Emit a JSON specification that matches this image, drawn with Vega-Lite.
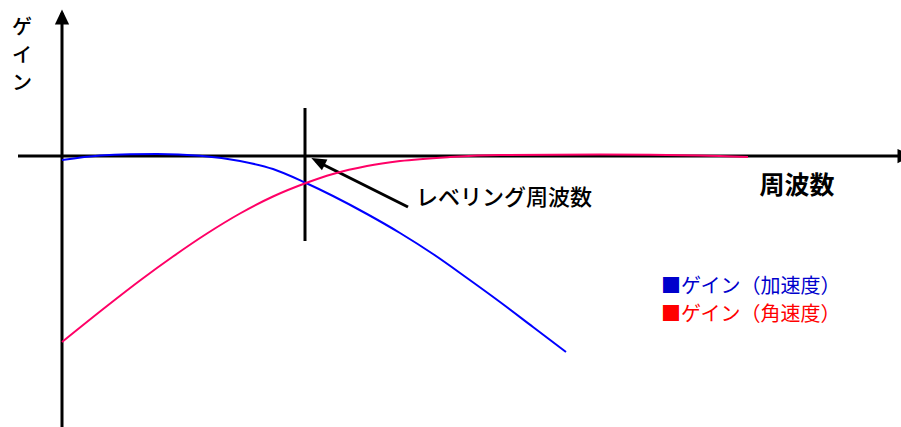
{
  "$schema": "https://vega.github.io/schema/vega-lite/v6.json",
  "width": 901,
  "height": 427,
  "autosize": {"type": "none"},
  "padding": 0,
  "background": "white",
  "config": {"view": {"stroke": null}, "font": "Noto Sans CJK JP"},
  "datasets": {
    "segments": [
      {"name": "y_axis", "x": 62, "y": -271, "x2": 62, "y2": 143},
      {"name": "x_axis", "x": 18, "y": 0, "x2": 898, "y2": 0},
      {"name": "leveling", "x": 305, "y": 48, "x2": 305, "y2": -85},
      {"name": "pointer", "x": 408, "y": -51, "x2": 316, "y2": -5}
    ],
    "curves": [
      {"series": "加速度", "x": 62, "gain": -4},
      {"series": "加速度", "x": 100, "gain": 0.5},
      {"series": "加速度", "x": 130, "gain": 1.8},
      {"series": "加速度", "x": 157, "gain": 2},
      {"series": "加速度", "x": 200, "gain": 0.3},
      {"series": "加速度", "x": 240, "gain": -5},
      {"series": "加速度", "x": 273, "gain": -13},
      {"series": "加速度", "x": 306, "gain": -27},
      {"series": "加速度", "x": 333, "gain": -40},
      {"series": "加速度", "x": 367, "gain": -58},
      {"series": "加速度", "x": 400, "gain": -77},
      {"series": "加速度", "x": 433, "gain": -98},
      {"series": "加速度", "x": 467, "gain": -122},
      {"series": "加速度", "x": 500, "gain": -146},
      {"series": "加速度", "x": 533, "gain": -171},
      {"series": "加速度", "x": 566, "gain": -196},
      {"series": "角速度", "x": 62, "gain": -186},
      {"series": "角速度", "x": 107, "gain": -150},
      {"series": "角速度", "x": 140, "gain": -124.5},
      {"series": "角速度", "x": 173, "gain": -100.5},
      {"series": "角速度", "x": 207, "gain": -77.5},
      {"series": "角速度", "x": 240, "gain": -57.5},
      {"series": "角速度", "x": 273, "gain": -40.5},
      {"series": "角速度", "x": 306, "gain": -27},
      {"series": "角速度", "x": 333, "gain": -18},
      {"series": "角速度", "x": 367, "gain": -10},
      {"series": "角速度", "x": 400, "gain": -5},
      {"series": "角速度", "x": 450, "gain": -1},
      {"series": "角速度", "x": 500, "gain": 1},
      {"series": "角速度", "x": 600, "gain": 1.5},
      {"series": "角速度", "x": 700, "gain": 0.5},
      {"series": "角速度", "x": 748, "gain": -1}
    ]
  },
  "layer": [
    {
      "data": {"name": "segments"},
      "mark": {"type": "rule", "color": "black", "strokeWidth": 3},
      "encoding": {
        "x": {"field": "x", "type": "quantitative", "scale": {"domain": [0, 901], "nice": false, "zero": false}, "axis": null},
        "y": {"field": "y", "type": "quantitative", "scale": {"domain": [-271, 156], "nice": false, "zero": false}, "axis": null},
        "x2": {"field": "x2"},
        "y2": {"field": "y2"}
      }
    },
    {
      "data": {"name": "curves"},
      "mark": {"type": "line", "strokeWidth": 2, "interpolate": "monotone"},
      "encoding": {
        "x": {"field": "x", "type": "quantitative", "axis": null},
        "y": {"field": "gain", "type": "quantitative", "axis": null},
        "color": {"field": "series", "type": "nominal", "scale": {"domain": ["加速度", "角速度"], "range": ["#0000FF", "#FF0066"]}, "legend": null}
      }
    },
    {
      "data": {"values": [{"x": 62, "y": 139}]},
      "mark": {"type": "point", "shape": "M0,-1L0.95,1L-0.95,1Z", "size": 225, "filled": true, "color": "black", "opacity": 1},
      "encoding": {
        "x": {"field": "x", "type": "quantitative", "axis": null},
        "y": {"field": "y", "type": "quantitative", "axis": null}
      }
    },
    {
      "data": {"values": [{"x": 905, "y": 0}]},
      "mark": {"type": "point", "shape": "M0,-1L0.95,1L-0.95,1Z", "size": 225, "angle": 90, "filled": true, "color": "black", "opacity": 1},
      "encoding": {
        "x": {"field": "x", "type": "quantitative", "axis": null},
        "y": {"field": "y", "type": "quantitative", "axis": null}
      }
    },
    {
      "data": {"values": [{"x": 318, "y": -5.4}]},
      "mark": {"type": "point", "shape": "M0,-1L0.8,1L-0.8,1Z", "size": 225, "angle": 297, "filled": true, "color": "black", "opacity": 1},
      "encoding": {
        "x": {"field": "x", "type": "quantitative", "axis": null},
        "y": {"field": "y", "type": "quantitative", "axis": null}
      }
    },
    {
      "data": {"values": [{"x": 416, "y": -42, "label": "レベリング周波数"}]},
      "mark": {"type": "text", "align": "left", "baseline": "middle", "fontSize": 22, "fontWeight": 500, "color": "black"},
      "encoding": {
        "x": {"field": "x", "type": "quantitative", "axis": null},
        "y": {"field": "y", "type": "quantitative", "axis": null},
        "text": {"field": "label"}
      }
    },
    {
      "data": {"values": [{"x": 797, "y": -30, "label": "周波数"}]},
      "mark": {"type": "text", "align": "center", "baseline": "middle", "fontSize": 25, "fontWeight": "bold", "color": "black"},
      "encoding": {
        "x": {"field": "x", "type": "quantitative", "axis": null},
        "y": {"field": "y", "type": "quantitative", "axis": null},
        "text": {"field": "label"}
      }
    },
    {
      "data": {"values": [{"x": 22, "y": 128, "label": "ゲ\nイ\nン"}]},
      "mark": {"type": "text", "align": "center", "baseline": "middle", "fontSize": 20, "lineBreak": "\n", "lineHeight": 28, "fontWeight": 500, "color": "black"},
      "encoding": {
        "x": {"field": "x", "type": "quantitative", "axis": null},
        "y": {"field": "y", "type": "quantitative", "axis": null},
        "text": {"field": "label"}
      }
    },
    {
      "data": {"values": [{"x": 661, "y": -131, "label": "■ゲイン（加速度）"}]},
      "mark": {"type": "text", "align": "left", "baseline": "middle", "fontSize": 20, "color": "#0000CC"},
      "encoding": {
        "x": {"field": "x", "type": "quantitative", "axis": null},
        "y": {"field": "y", "type": "quantitative", "axis": null},
        "text": {"field": "label"}
      }
    },
    {
      "data": {"values": [{"x": 661, "y": -159, "label": "■ゲイン（角速度）"}]},
      "mark": {"type": "text", "align": "left", "baseline": "middle", "fontSize": 20, "color": "#FF0000"},
      "encoding": {
        "x": {"field": "x", "type": "quantitative", "axis": null},
        "y": {"field": "y", "type": "quantitative", "axis": null},
        "text": {"field": "label"}
      }
    }
  ]
}
